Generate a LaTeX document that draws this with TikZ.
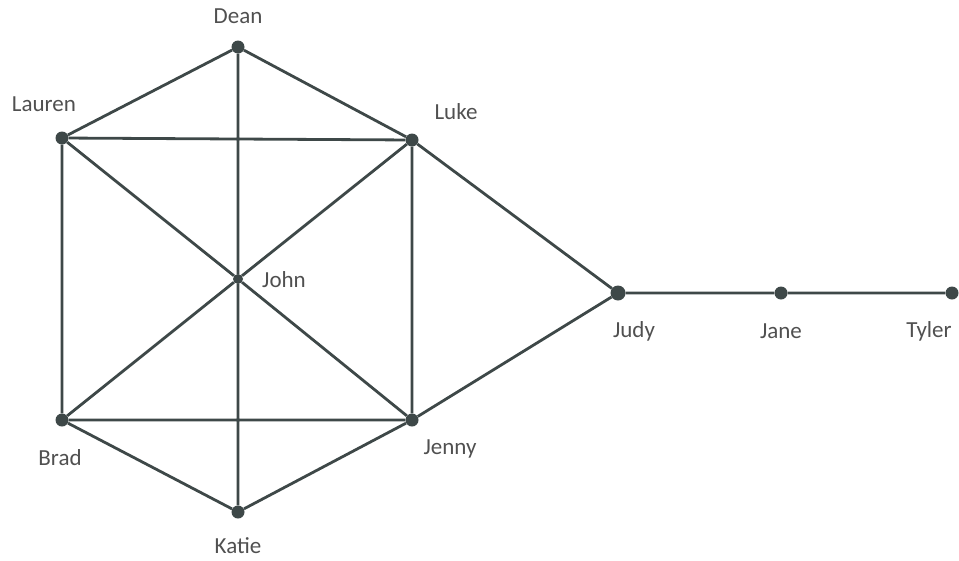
\documentclass[tikz,border=0pt]{standalone}
\usepackage{fontspec}
\setmainfont{Carlito}
\definecolor{edgec}{HTML}{3E4848}
\definecolor{textc}{HTML}{505050}
\begin{document}
\begin{tikzpicture}[x=1pt,y=-1pt,
  vert/.style={circle,fill=edgec,inner sep=0pt,minimum size=13pt},
  lbl/.style={text=textc,font=\fontsize{23}{27}\selectfont,inner sep=0pt},
  edge/.style={draw=edgec,line width=2.8pt}]
\useasboundingbox (0,0) rectangle (959,560);
\node[vert] (dean) at (238,47) {};
\node[vert] (lauren) at (62,138) {};
\node[vert] (luke) at (412,140) {};
\node[vert,minimum size=10pt] (john) at (238,279) {};
\node[vert,minimum size=15pt] (judy) at (618,293) {};
\node[vert] (jane) at (781,293) {};
\node[vert] (tyler) at (952,293) {};
\node[vert] (brad) at (62,420) {};
\node[vert] (jenny) at (412,420) {};
\node[vert] (katie) at (238,512) {};
\node[lbl] (ldean) at (238,16) {Dean};
\node[lbl] (llauren) at (44,104) {Lauren};
\node[lbl] (lluke) at (456,112) {Luke};
\node[lbl] (ljohn) at (284,280) {John};
\node[lbl] (ljudy) at (634,331) {Judy};
\node[lbl] (ljane) at (781,331) {Jane};
\node[lbl] (ltyler) at (929,331) {Tyler};
\node[lbl] (lbrad) at (60,458) {Brad};
\node[lbl] (ljenny) at (450,449) {Jenny};
\node[lbl] (lkatie) at (238,546) {Katie};
\path[edge] (dean) -- (lauren)
  (dean) -- (luke)
  (dean) -- (john) -- (katie)
  (lauren) -- (luke)
  (lauren) -- (brad)
  (lauren) -- (john) -- (jenny)
  (luke) -- (john) -- (brad)
  (luke) -- (jenny)
  (luke) -- (judy)
  (brad) -- (jenny)
  (brad) -- (katie)
  (katie) -- (jenny)
  (jenny) -- (judy)
  (judy) -- (jane)
  (jane) -- (tyler);
\end{tikzpicture}
\end{document}
